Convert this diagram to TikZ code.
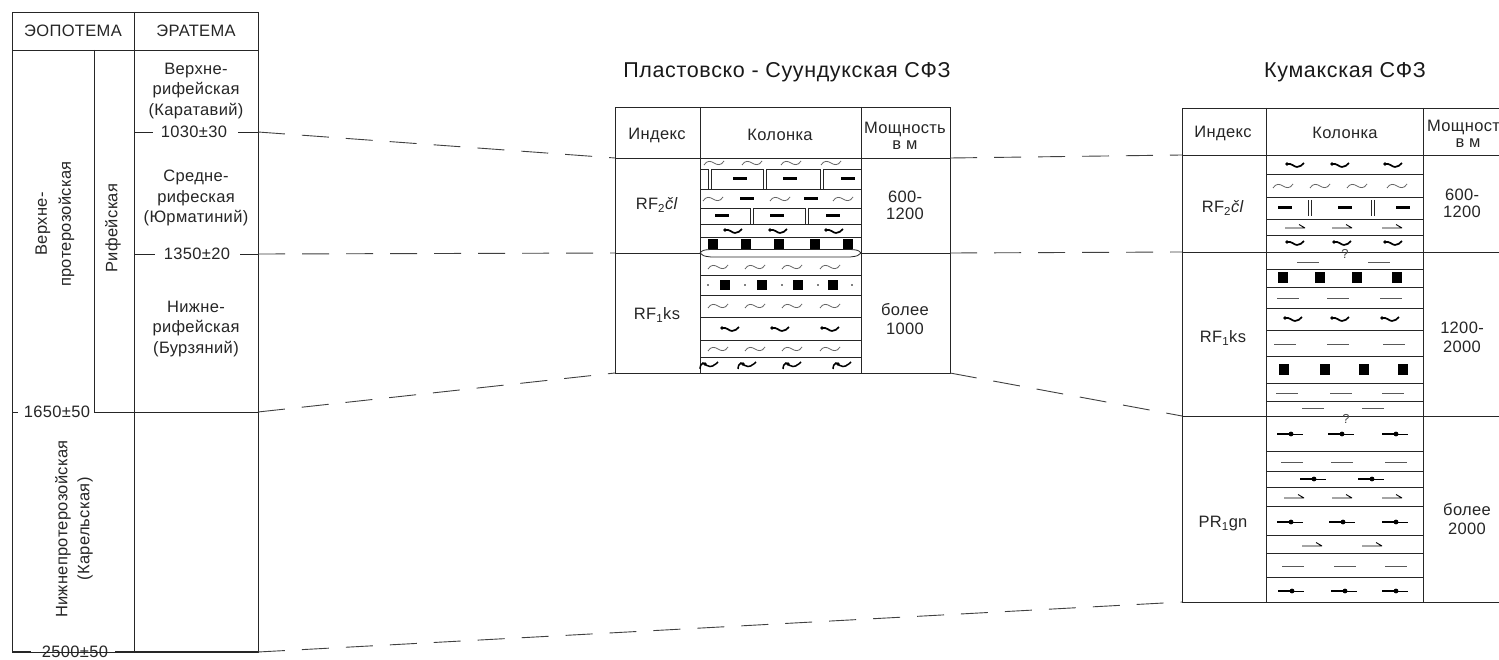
\documentclass[tikz,border=0pt]{standalone}
\usepackage{fontspec}
\setmainfont{Liberation Sans}[LetterSpace=2]
\newfontfamily\titlefont{Liberation Sans}[LetterSpace=3]
\tikzset{
  wvs/.pic={\draw[black!60, line width=0.8pt] (-10,2) .. controls (-7,-3) and (-3,-2) .. (0,0) .. controls (3,2) and (7,3) .. (10,-2);},
  bwvs/.pic={\fill (-8,-1) circle (1.9); \draw[line width=1.7pt] (-8,-1) .. controls (-3,-2) and (-1,2) .. (2,2) .. controls (5,2) and (7,0) .. (9,-2);},
  sqm/.pic={\fill (-4.7,-5) rectangle (4.7,5);},
  sqr/.pic={\fill (-5.3,-5.5) rectangle (5.3,5.5);},
  bds/.pic={\draw[line width=3pt] (-7,0)--(7,0);},
  hps/.pic={\draw[line width=0.9pt] (-10,0)--(10,0) (4,-3.5)--(10,0);},
  dls/.pic={\draw[line width=2pt] (-14,0)--(0,0); \draw[line width=1pt] (0,0)--(12,0); \fill (0,0) circle (2.4);},
  tds/.pic={\draw[black!65, line width=0.9pt] (-11,0)--(11,0);},
  pts/.pic={\fill (0,0) circle (0.9);},
  hks/.pic={\draw[line width=1.5pt] (-10,4) .. controls (-9.5,0) .. (-7,-2) .. controls (-4,-1) and (-3,2) .. (0,1.5) .. controls (3,1) .. (4,0) .. controls (5,-1) and (7,-1) .. (8,-3); \fill (-5,-1) circle (1.8);},
}
\begin{document}
\begin{tikzpicture}[x=1pt,y=-1pt,
  tx/.style={text=black!85, font=\fontsize{16.5}{19}\selectfont, inner sep=0pt, align=center},
  sm/.style={text=black!70, font=\fontsize{13}{14}\selectfont, inner sep=0pt},
  ttl/.style={text=black!90, font=\titlefont\fontsize{21.5}{24}\selectfont, inner sep=0pt},
  frm/.style={draw=black!85, line width=0.9pt},
  lay/.style={draw=black!85, line width=0.8pt},
  corr/.style={draw=black!75, line width=0.9pt, dash pattern=on 27pt off 17pt},
  dbv/.style={draw=black!85, line width=0.8pt, double distance=2.4pt}
]
\useasboundingbox (0,0) rectangle (1499,660);
\clip (0,0) rectangle (1499,660);
\fill[white] (0,0) rectangle (1499,660);

% ---------- left stratigraphic table ----------
\draw[frm] (12,12) rectangle (258,652);
\draw[frm] (134,12) -- (134,652);
\draw[frm] (12,50) -- (258,50);
\draw[frm] (94,50) -- (94,412);
\node[tx] (eo) at (73,31) {ЭОПОТЕМА};
\node[tx] (era) at (196,31) {ЭРАТЕМА};
\node[tx, font=\fontsize{16.5}{20.5}\selectfont] (vrf) at (196,91) {Верхне-\\рифейская\\(Каратавий)};
\node[tx, font=\fontsize{16.5}{20.5}\selectfont] (srf) at (196,198) {Средне-\\рифеская\\(Юрматиний)};
\node[tx, font=\fontsize{16.5}{20.5}\selectfont] (nrf) at (196,329) {Нижне-\\рифейская\\(Бурзяний)};
\node[tx, rotate=90, font=\fontsize{16.5}{24}\selectfont] (vpr) at (55,224) {Верхне-\\протерозойская};
\node[tx, rotate=90] (rif) at (113,228) {Рифейская};
\node[tx, rotate=90, font=\fontsize{16.5}{22}\selectfont] (npr) at (74,529) {Нижнепротерозойская\\(Карельская)};
\node[tx] (b1030) at (194,132) {1030±30};
\node[tx] (b1350) at (197,254) {1350±20};
\node[tx] (b1650) at (57,412) {1650±50};
\node[tx] (b2500) at (75,652) {2500±50};
\draw[frm] (134,132) -- (153,132) (238,132) -- (258,132);
\draw[frm] (134,254) -- (155,254) (240,254) -- (258,254);
\draw[frm] (12,412) -- (18,412) (94,412) -- (258,412);
\draw[frm] (12,651.5) -- (31,651.5) (115,651.5) -- (258,651.5);

\coordinate (l1030) at (258,132);
\coordinate (l1350) at (258,254);
\coordinate (l1650) at (258,412);
\coordinate (l2500) at (258,652);

% ---------- middle table ----------
\node[ttl] (t1) at (787,72) {Пластовско - Суундукская СФЗ};
\draw[frm] (615,107) rectangle (950,373);
\draw[frm] (700,107) -- (700,373) (861,107) -- (861,373);
\draw[frm] (615,158) -- (950,158);
\draw[frm] (615,253) -- (700,253) (861,253) -- (950,253);
\node[tx] (mh1) at (657,135) {Индекс};
\node[tx] (mh2) at (780,135) {Колонка};
\node[tx, font=\fontsize{16.5}{16}\selectfont] (mh3) at (905,136) {Мощность\\в м};
\node[tx] (mi1) at (657,205) {RF\textsubscript{2}\textit{\v{c}l}};
\node[tx] (mi2) at (657,315) {RF\textsubscript{1}ks};
\node[tx, font=\fontsize{16.5}{17}\selectfont] (mm1) at (905,205) {600-\\1200};
\node[tx] (mm2) at (905,319) {более\\1000};

\coordinate (m1t) at (615,158);
\coordinate (m1m) at (615,253);
\coordinate (m1b) at (615,373);
\coordinate (m2t) at (950,158);
\coordinate (m2m) at (950,253);
\coordinate (m2b) at (950,373);

% layers middle
\foreach \y in {169,189,208,224,237,275,295,317,340,357} \draw[lay] (700,\y) -- (861,\y);
\draw[lay] (700,253) .. controls (703,250) .. (711,249.5) -- (850,249.5) .. controls (858,250) .. (861,253);
\draw[lay] (700,253) .. controls (703,256) .. (711,257) -- (850,257) .. controls (858,256) .. (861,253);
\foreach \x in {714,752,791,831} \pic at (\x,163) {wvs};
\foreach \x in {710,765,822} \draw[dbv] (\x,169) -- (\x,189);
\foreach \x in {740,790,848} \pic at (\x,179) {bds};
\foreach \x in {713,780,843} \pic at (\x,199) {wvs};
\foreach \x in {747,811} \pic at (\x,199) {bds};
\foreach \x in {752,807} \draw[dbv] (\x,208) -- (\x,224);
\foreach \x in {722,777,833} \pic at (\x,216) {bds};
\foreach \x in {733,778,834} \pic at (\x,231) {bwvs};
\foreach \x in {713,746,779,815,848} \pic at (\x,244) {sqm};
\foreach \x in {718,755,792,830} \pic at (\x,267) {wvs};
\foreach \x in {708,745,782,818,852} \pic at (\x,285) {pts};
\foreach \x in {725,762,798,833} \pic at (\x,285) {sqm};
\foreach \x in {718,755,792,830} \pic at (\x,306) {wvs};
\foreach \x in {730,780,830} \pic at (\x,329) {bwvs};
\foreach \x in {718,755,792,830} \pic at (\x,349) {wvs};
\foreach \x in {710,748,793,843} \pic at (\x,365) {hks};

% ---------- right table ----------
\node[ttl] (t2) at (1345,72) {Кумакская СФЗ};
\draw[frm] (1520,108) -- (1182,108) -- (1182,602) -- (1520,602);
\draw[frm] (1266,108) -- (1266,602) (1423,108) -- (1423,602);
\foreach \y in {155,252,416} \draw[frm] (1182,\y) -- (1520,\y);
\node[tx] (rh1) at (1223,133) {Индекс};
\node[tx] (rh2) at (1345,133) {Колонка};
\node[tx, font=\fontsize{16.5}{16}\selectfont] (rh3) at (1468,134) {Мощность\\в м};
\node[tx] (ri1) at (1223,208) {RF\textsubscript{2}\textit{\v{c}l}};
\node[tx] (ri2) at (1223,338) {RF\textsubscript{1}ks};
\node[tx] (ri3) at (1223,524) {PR\textsubscript{1}gn};
\node[tx, font=\fontsize{16.5}{17}\selectfont] (rm1) at (1462,203) {600-\\1200};
\node[tx] (rm2) at (1462,337) {1200-\\2000};
\node[tx] (rm3) at (1467,519) {более\\2000};
\node[sm] (q1) at (1345,254) {?};
\node[sm] (q2) at (1346,419) {?};

\coordinate (r1t) at (1182,155);
\coordinate (r1m) at (1182,252);
\coordinate (r1b) at (1182,416);
\coordinate (r1e) at (1182,602);

\foreach \y in {174,197,219,235,269,287,308,330,356,383,401,451,471,487,506,535,553,577} \draw[lay] (1266,\y) -- (1423,\y);
\foreach \x in {1295,1340,1393} \pic at (\x,165) {bwvs};
\foreach \x in {1283,1320,1357,1397} \pic at (\x,186) {wvs};
\foreach \x in {1285,1345,1403} \pic at (\x,208) {bds};
\foreach \x in {1310,1373} \draw[dbv] (\x,200) -- (\x,216);
\foreach \x in {1295,1342,1392} \pic at (\x,228) {hps};
\foreach \x in {1295,1342,1393} \pic at (\x,243) {bwvs};
\foreach \x in {1308,1379} \pic at (\x,262) {tds};
\foreach \x in {1283,1320,1357,1397} \pic at (\x,278) {sqr};
\foreach \x in {1288,1338,1391} \pic at (\x,298) {tds};
\foreach \x in {1293,1340,1390} \pic at (\x,319) {bwvs};
\foreach \x in {1285,1338,1394} \pic at (\x,344) {tds};
\foreach \x in {1284,1325,1364,1403} \pic at (\x,369) {sqr};
\foreach \x in {1287,1341,1393} \pic at (\x,393) {tds};
\foreach \x in {1313,1373} \pic at (\x,408) {tds};
\foreach \x in {1291,1342,1396} \pic at (\x,434) {dls};
\foreach \x in {1292,1342,1396} \pic at (\x,462) {tds};
\foreach \x in {1314,1372} \pic at (\x,479) {dls};
\foreach \x in {1294,1342,1392} \pic at (\x,498) {hps};
\foreach \x in {1291,1343,1396} \pic at (\x,522) {dls};
\foreach \x in {1312,1372} \pic at (\x,546) {hps};
\foreach \x in {1293,1345,1396} \pic at (\x,566) {tds};
\foreach \x in {1292,1345,1396} \pic at (\x,591) {dls};

% ---------- correlation lines ----------
\draw[corr] (l1030) -- (m1t);
\draw[corr] (l1350) -- (m1m);
\draw[corr] (l1650) -- (m1b);
\draw[corr] (l2500) -- (r1e);
\draw[corr] (m2t) -- (r1t);
\draw[corr] (m2m) -- (r1m);
\draw[corr] (m2b) -- (r1b);
\end{tikzpicture}
\end{document}
